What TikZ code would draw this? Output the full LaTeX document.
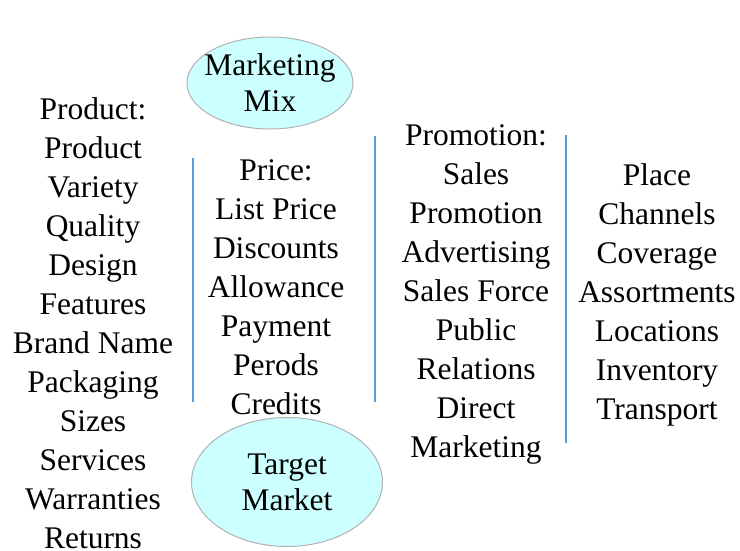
\documentclass[tikz,border=0pt]{standalone}
\usepackage{fontspec}
\setmainfont{Liberation Serif}
\usetikzlibrary{shapes,positioning}

\definecolor{divblue}{RGB}{91,155,213}
\definecolor{ovalfill}{RGB}{204,255,255}

\tikzset{
  col/.style={align=center, inner sep=0pt, font=\fontsize{31.5}{39}\selectfont},
  oval/.style={ellipse, draw=black!30, line width=1pt, fill=ovalfill, align=center,
    inner xsep=-30pt, inner ysep=-10pt, font=\fontsize{31.5}{36}\selectfont},
  divider/.style={divblue, line width=1.6pt}
}

\begin{document}
\begin{tikzpicture}[x=1pt,y=-1pt]
\useasboundingbox (0,0) rectangle (740,550);

% Draw ovals
\node[oval, minimum width=166pt, minimum height=92pt] (mix) at (270,83) {Marketing\\Mix};
\node[oval, minimum width=191pt, minimum height=129pt] (target) at (287,482) {Target\\Market};

% Draw columns
\node[col] (product) at (93,323) {Product:\\Product\\Variety\\Quality\\Design\\Features\\Brand Name\\Packaging\\Sizes\\Services\\Warranties\\Returns};
\node[col] (price) at (276,287) {Price:\\List Price\\Discounts\\Allowance\\Payment\\Perods\\Credits};
\node[col] (promotion) at (476,294) {Promotion:\\Sales\\Promotion\\Advertising\\Sales Force\\Public\\Relations\\Direct\\Marketing};
\node[col] (place) at (657,295) {Place\\Channels\\Coverage\\Assortments\\Locations\\Inventory\\Transport};

% Draw dividers
\draw[divider] (193,158) -- (193,402);
\draw[divider] (375,136) -- (375,402);
\draw[divider] (566,135) -- (566,443);
\end{tikzpicture}
\end{document}
